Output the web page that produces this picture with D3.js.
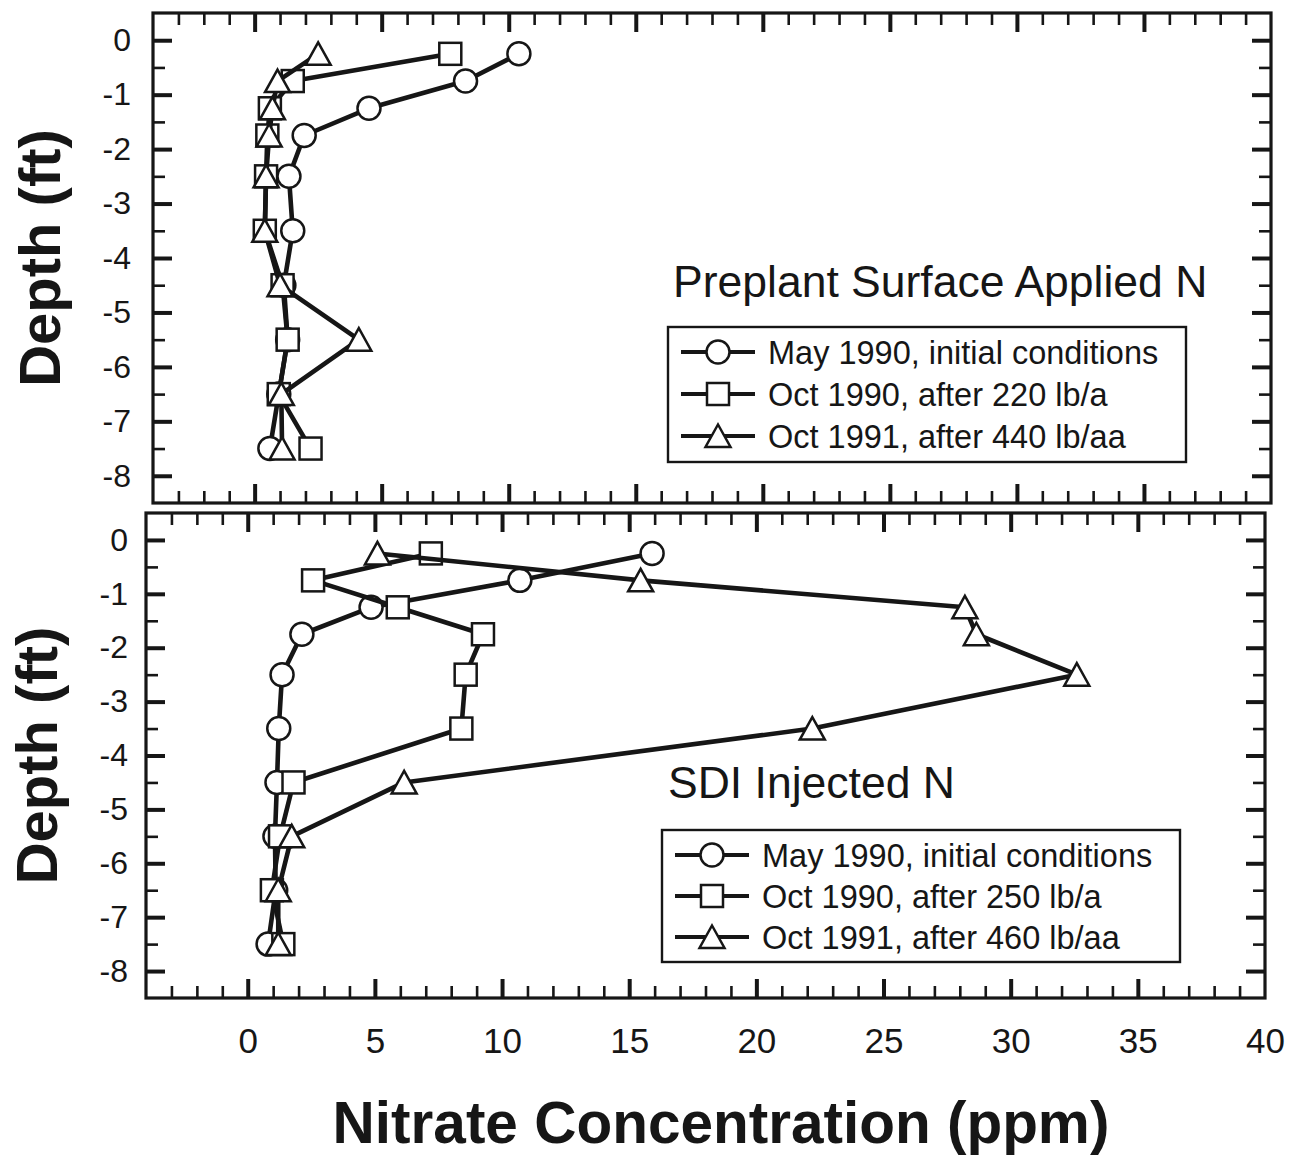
<!DOCTYPE html>
<html><head><meta charset="utf-8">
<script src="https://cdn.jsdelivr.net/npm/d3@7"></script>
<style>body{margin:0;background:#fff}svg{display:block}</style>
</head><body>
<svg id="chart" width="1290" height="1159"></svg>
<script>
// ---- data ----
const depths = [-0.25, -0.75, -1.25, -1.75, -2.5, -3.5, -4.5, -5.5, -6.5, -7.5];
const xTickValues = [0, 5, 10, 15, 20, 25, 30, 35, 40];
const yTickValues = [0, -1, -2, -3, -4, -5, -6, -7, -8];

const topMay1990 = [10.4, 8.3, 4.5, 1.95, 1.35, 1.5, 1.15, 1.3, 0.95, 0.6];
const topOct1990 = [7.7, 1.5, 0.6, 0.5, 0.45, 0.4, 1.1, 1.3, 0.95, 2.2];
const topOct1991 = [2.5, 0.9, 0.7, 0.57, 0.45, 0.4, 1.0, 4.1, 1.05, 1.08];
const topLabels = ["May 1990, initial conditions", "Oct 1990, after 220 lb/a", "Oct 1991, after 440 lb/aa"];

const botMay1990 = [15.9, 10.7, 4.85, 2.13, 1.35, 1.22, 1.15, 1.07, 1.1, 0.8];
const botOct1990 = [7.2, 2.57, 5.9, 9.25, 8.57, 8.4, 1.8, 1.27, 0.95, 1.4];
const botOct1991 = [5.1, 15.45, 28.2, 28.65, 32.6, 22.2, 6.15, 1.73, 1.2, 1.2];
const botLabels = ["May 1990, initial conditions", "Oct 1990, after 250 lb/a", "Oct 1991, after 460 lb/aa"];

const symbols = ["circle", "square", "triangle"];
const INK = "#161616";
const FONT = "'Liberation Sans', Arial, Helvetica, sans-serif";

const svg = d3.select("#chart");

function drawMarker(g, type, cx, cy) {
  const sw = 2.5;
  if (type === "circle") {
    g.append("circle").attr("cx", cx).attr("cy", cy).attr("r", 11.5)
      .attr("fill", "#fff").attr("stroke", INK).attr("stroke-width", sw);
  } else if (type === "square") {
    g.append("rect").attr("x", cx - 11).attr("y", cy - 11).attr("width", 22).attr("height", 22)
      .attr("fill", "#fff").attr("stroke", INK).attr("stroke-width", sw);
  } else {
    g.append("path").attr("d", `M${cx},${cy - 11.5}L${cx + 12.5},${cy + 11}L${cx - 12.5},${cy + 11}Z`)
      .attr("fill", "#fff").attr("stroke", INK).attr("stroke-width", sw).attr("stroke-linejoin", "miter");
  }
}

function drawPanel(cfg) {
  const x = d3.scaleLinear().domain([-4, 40]).range([cfg.left, cfg.right]);
  const y = d3.scaleLinear().domain([0.5, -8.5]).range([cfg.top, cfg.bottom]);
  const g = svg.append("g");
  const h = cfg.bottom - cfg.top, w = cfg.right - cfg.left;

  const xMinor = d3.range(-3, 40, 1).filter(v => v % 5 !== 0);
  const xMajor = [0, 5, 10, 15, 20, 25, 30, 35];
  const yMinor = d3.range(-8, 0.01, 0.5).filter(v => !Number.isInteger(v));
  const yMajor = yTickValues;

  function tickSet(axisFn, scale, values, size, width, transform) {
    const a = g.append("g").attr("transform", transform)
      .call(axisFn(scale).tickValues(values).tickSize(size).tickFormat(""));
    a.select(".domain").remove();
    a.selectAll("line").attr("stroke", INK).attr("stroke-width", width);
  }
  tickSet(d3.axisBottom, x, xMinor, -12, 2.6, `translate(0,${cfg.bottom})`);
  tickSet(d3.axisBottom, x, xMajor, -19, 4, `translate(0,${cfg.bottom})`);
  tickSet(d3.axisTop, x, xMinor, -12, 2.6, `translate(0,${cfg.top})`);
  tickSet(d3.axisTop, x, xMajor, -19, 4, `translate(0,${cfg.top})`);
  tickSet(d3.axisLeft, y, yMinor, -12, 2.6, `translate(${cfg.left},0)`);
  tickSet(d3.axisLeft, y, yMajor, -19, 4, `translate(${cfg.left},0)`);
  tickSet(d3.axisRight, y, yMinor, -12, 2.6, `translate(${cfg.right},0)`);
  tickSet(d3.axisRight, y, yMajor, -19, 4, `translate(${cfg.right},0)`);

  const yl = g.append("g").attr("transform", `translate(${cfg.left},0)`)
    .call(d3.axisLeft(y).tickValues(yTickValues).tickSize(0).tickPadding(cfg.yPad)
      .tickFormat(d => d === 0 ? "0" : "-" + Math.abs(d)));
  yl.select(".domain").remove();
  yl.selectAll("text").attr("font-family", FONT).attr("font-size", 32).attr("fill", INK);

  if (cfg.xLabels) {
    const xl = g.append("g").attr("transform", `translate(0,${cfg.bottom})`)
      .call(d3.axisBottom(x).tickValues(xTickValues).tickSize(0).tickPadding(30).tickFormat(d3.format("d")));
    xl.select(".domain").remove();
    xl.selectAll("text").attr("font-family", FONT).attr("font-size", 35).attr("fill", INK);
  }

  g.append("rect").attr("x", cfg.left).attr("y", cfg.top).attr("width", w).attr("height", h)
    .attr("fill", "none").attr("stroke", INK).attr("stroke-width", 3.2);

  const line = d3.line().x(d => x(d[0])).y(d => y(d[1]));
  cfg.series.forEach((vals, i) => {
    const pts = vals.map((v, j) => [v, depths[j]]);
    const sg = g.append("g");
    sg.append("path").attr("d", line(pts)).attr("fill", "none")
      .attr("stroke", INK).attr("stroke-width", 4.6).attr("stroke-linejoin", "round");
    pts.forEach(p => drawMarker(sg, symbols[i], x(p[0]), y(p[1])));
  });

  g.append("text").attr("x", cfg.titleX).attr("y", cfg.titleY).text(cfg.title)
    .attr("font-family", FONT).attr("font-size", 44.5).attr("fill", INK);

  const L = cfg.legend;
  g.append("rect").attr("x", L.x).attr("y", L.y).attr("width", L.w).attr("height", L.h)
    .attr("fill", "#fff").attr("stroke", INK).attr("stroke-width", 2.4);
  cfg.labels.forEach((lab, i) => {
    const cy = L.y + L.row0 + i * L.dy;
    const lg = g.append("g");
    lg.append("line").attr("x1", L.x + 13).attr("x2", L.x + 87).attr("y1", cy).attr("y2", cy)
      .attr("stroke", INK).attr("stroke-width", 4);
    drawMarker(lg, symbols[i], L.x + 50, cy);
    lg.append("text").attr("x", L.x + 100).attr("y", cy).attr("dy", "0.36em").text(lab)
      .attr("font-family", FONT).attr("font-size", 32.5).attr("fill", INK);
  });

  g.append("text").attr("transform", `translate(${cfg.yTitleX},${(cfg.top + cfg.bottom) / 2}) rotate(-90)`)
    .attr("text-anchor", "middle").text("Depth (ft)")
    .attr("font-family", FONT).attr("font-size", 58).attr("font-weight", "bold").attr("fill", INK);
}

drawPanel({
  left: 153, right: 1271, top: 13, bottom: 503, yPad: 22, xLabels: false,
  series: [topMay1990, topOct1990, topOct1991], labels: topLabels,
  title: "Preplant Surface Applied N", titleX: 673, titleY: 297,
  legend: { x: 668, y: 327, w: 518, h: 135, row0: 25, dy: 42 },
  yTitleX: 60
});

drawPanel({
  left: 146, right: 1265, top: 513, bottom: 998, yPad: 18, xLabels: true,
  series: [botMay1990, botOct1990, botOct1991], labels: botLabels,
  title: "SDI Injected N", titleX: 668, titleY: 798,
  legend: { x: 662, y: 830, w: 518, h: 132, row0: 25, dy: 41 },
  yTitleX: 57
});

svg.append("text").attr("x", 721).attr("y", 1143).attr("text-anchor", "middle")
  .text("Nitrate Concentration (ppm)")
  .attr("font-family", FONT).attr("font-size", 58.5).attr("font-weight", "bold").attr("fill", INK);
</script>
</body></html>
